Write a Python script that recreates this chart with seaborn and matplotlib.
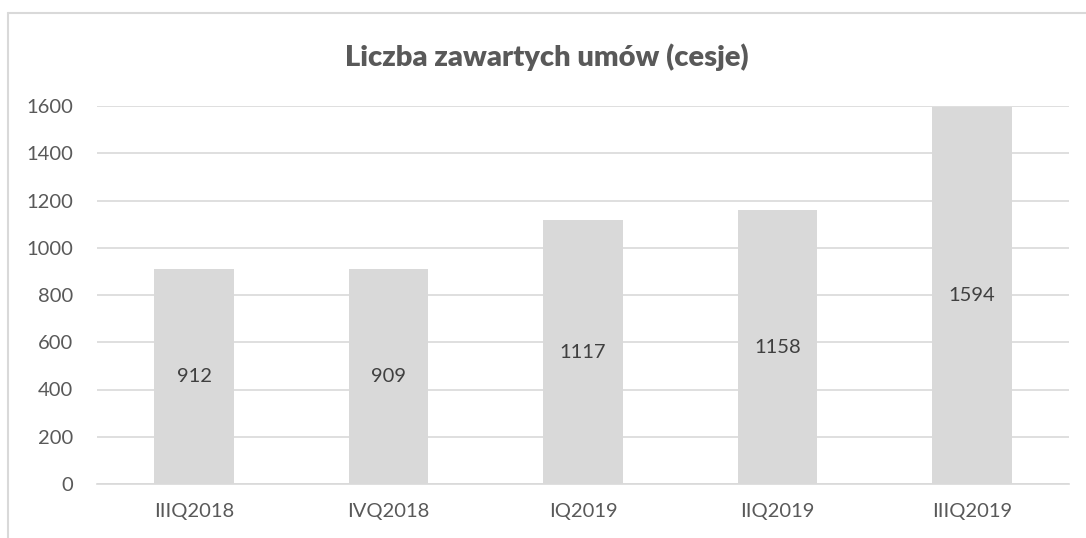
import matplotlib
matplotlib.use("Agg", force=True)
import matplotlib.pyplot as plt
from matplotlib.lines import Line2D
import pandas as pd
import seaborn as sns

QUARTERS = ["IIIQ2018", "IVQ2018", "IQ2019", "IIQ2019", "IIIQ2019"]
CONTRACTS = [912, 909, 1117, 1158, 1594]
Y_TICKS = [0, 200, 400, 600, 800, 1000, 1200, 1400, 1600]

TEXT_GREY = "#595959"
GRID_GREY = "#d9d9d9"
BAR_GREY = "#d9d9d9"

frame = pd.DataFrame({"quarter": QUARTERS, "contracts": CONTRACTS})

sns.set_theme(style="white")
plt.rcParams["font.family"] = ["Lato", "DejaVu Sans"]

fig = plt.figure(figsize=(10.86, 5.38), dpi=100)
ax = fig.add_axes([97 / 1086, 1 - 484 / 538, (1069 - 97) / 1086, (484 - 106) / 538])

sns.barplot(
    data=frame,
    x="quarter",
    y="contracts",
    color=BAR_GREY,
    saturation=1,
    width=0.41,
    linewidth=0,
    ax=ax,
    zorder=3,
)
ax.set_ylim(0, 1600)
ax.set_xlim(-0.5, len(QUARTERS) - 0.5)
ax.set_yticks(Y_TICKS)
ax.set_yticklabels([str(t) for t in Y_TICKS])
ax.yaxis.grid(True, color=GRID_GREY, linewidth=1.2, zorder=0)
ax.set_axisbelow(True)
ax.set_xlabel("")
ax.set_ylabel("")
for side in ["top", "right", "left"]:
    ax.spines[side].set_visible(False)
ax.spines["bottom"].set_color(GRID_GREY)
ax.spines["bottom"].set_linewidth(1.2)
ax.tick_params(axis="both", length=0, labelsize=14.5, labelcolor=TEXT_GREY)
ax.tick_params(axis="y", pad=17)
ax.tick_params(axis="x", pad=14)

ax.bar_label(ax.containers[0], labels=[str(v) for v in CONTRACTS], label_type="center",
             fontsize=14.5, color="#404040")

fig.text(547 / 1086, 1 - 57 / 538, "Liczba zawartych umów (cesje)", ha="center", va="center",
         fontsize=21, fontweight="heavy", color=TEXT_GREY)

# chart frame (left and top edges visible)
x0, y0 = 8 / 1086, 1 - 13 / 538
fig.add_artist(Line2D([x0, x0], [0, y0], transform=fig.transFigure, color=GRID_GREY, linewidth=1.5))
fig.add_artist(Line2D([x0, 1], [y0, y0], transform=fig.transFigure, color=GRID_GREY, linewidth=1.5))

fig.savefig("out.png", dpi=100)
plt.close(fig)
